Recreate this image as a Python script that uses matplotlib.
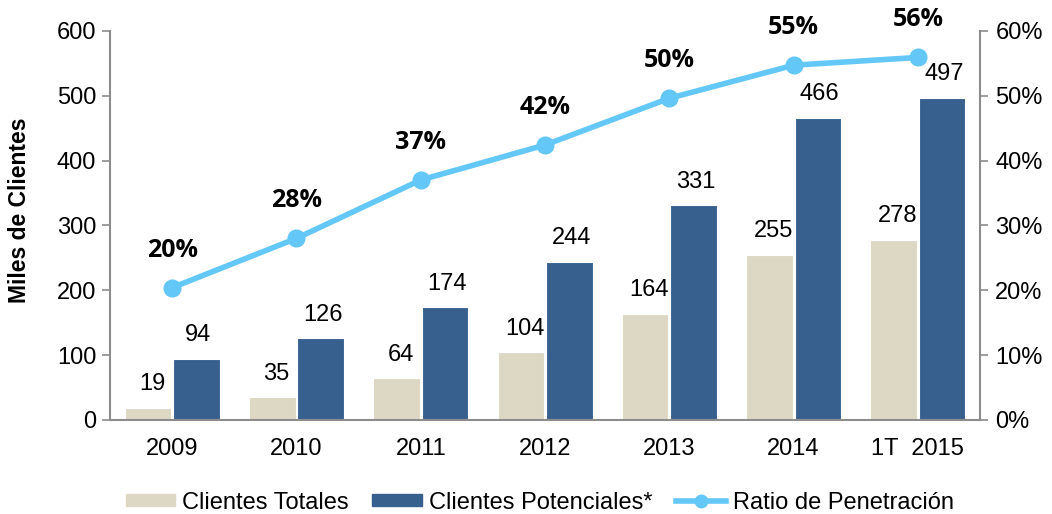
import matplotlib
matplotlib.use("Agg")
import matplotlib.pyplot as plt
import numpy as np
from matplotlib.ticker import FuncFormatter
from matplotlib.lines import Line2D
from matplotlib.patches import Patch

categories = ["2009", "2010", "2011", "2012", "2013", "2014", "1T  2015"]
clientes_totales = [19, 35, 64, 104, 164, 255, 278]
clientes_potenciales = [94, 126, 174, 244, 331, 466, 497]
ratio_penetracion = [20.4, 28.0, 37.0, 42.4, 49.6, 54.7, 55.9]
ratio_labels = ["20%", "28%", "37%", "42%", "50%", "55%", "56%"]

c_tot = "#DDD8C3"
c_pot = "#38608F"
c_line = "#63C7F8"
grey = "#8C8C8C"
font = "Liberation Sans"
fs = 17

fig = plt.figure(figsize=(10.52, 5.14), dpi=100)
ax = fig.add_axes([0.1046, 0.183, 0.827, 0.757])
x = np.arange(len(categories))
w = 0.375
ax.bar(x - 0.195, clientes_totales, w, color=c_tot, edgecolor="white", linewidth=0.8, zorder=2)
ax.bar(x + 0.195, clientes_potenciales, w, color=c_pot, edgecolor="white", linewidth=0.8, zorder=2)
for xi, v in zip(x, clientes_totales):
    ax.annotate(str(v), (xi - 0.16, v), xytext=(0, 9), textcoords="offset points",
                ha="center", va="bottom", fontsize=fs, family=font)
for xi, v in zip(x, clientes_potenciales):
    ax.annotate(str(v), (xi + 0.21, v), xytext=(0, 9), textcoords="offset points",
                ha="center", va="bottom", fontsize=fs, family=font)

ax.set_xlim(-0.5, len(categories) - 0.5)
ax.set_ylim(0, 600)
ax.set_yticks(range(0, 601, 100))
ax.set_xticks(x)
ax.set_xticklabels(categories, family=font, fontsize=fs)
ax.tick_params(axis="x", length=0, pad=13)
ax.tick_params(axis="y", length=6, color=grey, width=1.2, labelsize=fs, pad=4)
for lab in ax.get_yticklabels():
    lab.set_family(font)
ax.set_ylabel("Miles de Clientes", family=font, fontsize=16.5, fontweight="bold")
ax.yaxis.set_label_coords(-0.091, 0.54)
ax.spines["top"].set_visible(False)
ax.spines["right"].set_visible(False)
for s in ["left", "bottom"]:
    ax.spines[s].set_color(grey)
    ax.spines[s].set_linewidth(1.5)

ax2 = ax.twinx()
ax2.set_ylim(0, 60)
ax2.set_yticks(range(0, 61, 10))
ax2.yaxis.set_major_formatter(FuncFormatter(lambda v, p: f"{v:.0f}%"))
ax2.plot(x, ratio_penetracion, color=c_line, linewidth=4, marker="o", markersize=12, zorder=3)
for xi, v, lab in zip(x, ratio_penetracion, ratio_labels):
    ax2.annotate(lab, (xi, v), xytext=(0, 18), textcoords="offset points",
                 ha="center", va="bottom", fontsize=18, fontweight="bold", family="Open Sans")
ax2.tick_params(axis="y", length=6, color=grey, width=1.2, labelsize=fs, pad=5)
for lab in ax2.get_yticklabels():
    lab.set_family(font)
for s in ["top", "left", "bottom"]:
    ax2.spines[s].set_visible(False)
ax2.spines["right"].set_color(grey)
ax2.spines["right"].set_linewidth(1.5)

handles = [Patch(color=c_tot), Patch(color=c_pot),
           Line2D([], [], color=c_line, linewidth=4, marker="o", markersize=9)]
labels = ["Clientes Totales", "Clientes Potenciales*", "Ratio de Penetración"]
fig.legend(handles, labels, loc="center", bbox_to_anchor=(0.513, 0.022), ncol=3, frameon=False,
           prop={"family": font, "size": fs}, handlelength=2.1, handleheight=0.4,
           columnspacing=1.0, handletextpad=0.3)

fig.savefig("out.png", dpi=100)
